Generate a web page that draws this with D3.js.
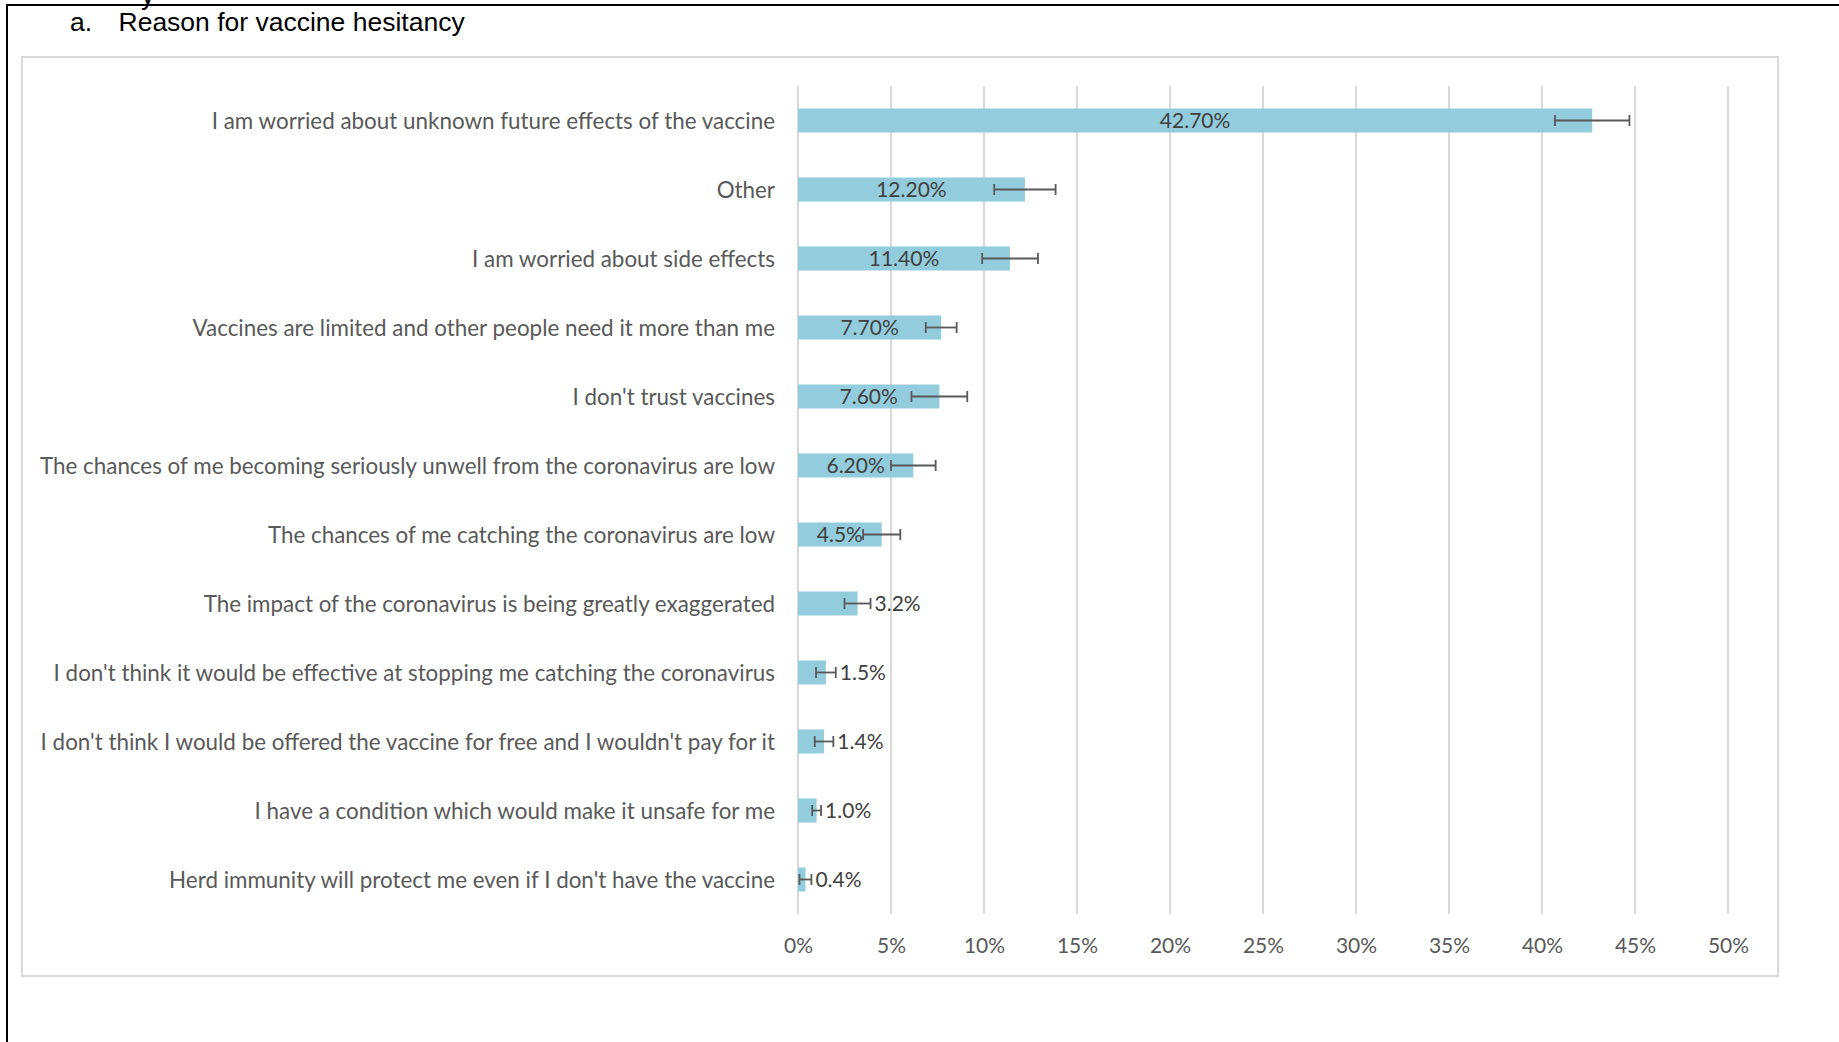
<!DOCTYPE html>
<html>
<head>
<meta charset="utf-8">
<script src="https://cdn.jsdelivr.net/npm/d3@7"></script>
<style>
  body { margin: 0; background: #fff; }
  svg { display: block; }
</style>
</head>
<body>
<div id="chart"></div>
<script>
const categories = [
  'I am worried about unknown future effects of the vaccine',
  'Other',
  'I am worried about side effects',
  'Vaccines are limited and other people need it more than me',
  "I don't trust vaccines",
  'The chances of me becoming seriously unwell from the coronavirus are low',
  'The chances of me catching the coronavirus are low',
  'The impact of the coronavirus is being greatly exaggerated',
  "I don't think it would be effective at stopping me catching the coronavirus",
  "I don't think I would be offered the vaccine for free and I wouldn't pay for it",
  'I have a condition which would make it unsafe for me',
  "Herd immunity will protect me even if I don't have the vaccine"
]
const values = [42.7, 12.2, 11.4, 7.7, 7.6, 6.2, 4.5, 3.2, 1.5, 1.4, 1.0, 0.4]
const errors = [2.0, 1.65, 1.5, 0.83, 1.5, 1.2, 1.0, 0.7, 0.53, 0.5, 0.24, 0.32]
const valueLabels = ['42.70%', '12.20%', '11.40%', '7.70%', '7.60%', '6.20%', '4.5%', '3.2%', '1.5%', '1.4%', '1.0%', '0.4%']
const labelInside = [true, true, true, true, true, true, true, false, false, false, false, false]
const tickValues = [0, 5, 10, 15, 20, 25, 30, 35, 40, 45, 50]

const W = 1839, H = 1042
const data = categories.map((c, i) => ({
  name: c, value: values[i], err: errors[i], label: valueLabels[i], inside: labelInside[i]
}))

const svg = d3.select('#chart').append('svg')
  .attr('width', W)
  .attr('height', H)

svg.append('rect').attr('width', W).attr('height', H).attr('fill', '#fff')

// page frame + the tail of a letter from the line above (cut off in the source too)
svg.append('text')
  .attr('x', 141).attr('y', 4)
  .style('font-family', '"Liberation Sans", Arial, sans-serif')
  .style('font-size', '27px')
  .text('y')
svg.append('line').attr('x1', 6).attr('x2', W).attr('y1', 5).attr('y2', 5)
  .attr('stroke', '#000').attr('stroke-width', 2)
svg.append('line').attr('x1', 7).attr('x2', 7).attr('y1', 4).attr('y2', H)
  .attr('stroke', '#000').attr('stroke-width', 2)

// title
const title = svg.append('g')
  .style('font-family', '"Liberation Sans", Arial, sans-serif')
  .style('font-size', '26.5px')
  .attr('fill', '#000')
title.append('text').attr('x', 70).attr('y', 31).text('a.')
title.append('text').attr('x', 118.5).attr('y', 31).text('Reason for vaccine hesitancy')

// chart area border
svg.append('rect')
  .attr('x', 22).attr('y', 57)
  .attr('width', 1756).attr('height', 919)
  .attr('fill', '#fff')
  .attr('stroke', '#d9d9d9')
  .attr('stroke-width', 2)

const xScale = d3.scaleLinear()
  .domain([0, 50])
  .range([798, 1728])

const yScale = d3.scaleBand()
  .domain(categories)
  .range([86, 914])
  .paddingInner(0.652)
  .paddingOuter(0.326)

// gridlines
svg.append('g')
  .selectAll('line')
  .data(tickValues)
  .enter()
  .append('line')
    .attr('x1', d => xScale(d))
    .attr('x2', d => xScale(d))
    .attr('y1', 86)
    .attr('y2', 914)
    .attr('stroke', '#d9d9d9')
    .attr('stroke-width', 2)

// x axis labels
const xAxis = d3.axisBottom(xScale)
  .tickValues(tickValues)
  .tickFormat(d => d + '%')
  .tickSize(0)
  .tickPadding(0)

const xAxisG = svg.append('g')
  .attr('transform', 'translate(0, 938)')
  .call(xAxis)
xAxisG.select('.domain').remove()
xAxisG.selectAll('text')
  .attr('dy', '0.7em')
  .style('font-family', 'Lato, sans-serif')
  .style('font-size', '21px')
  .attr('fill', '#595959')

// category labels
svg.append('g')
  .selectAll('text')
  .data(data)
  .enter()
  .append('text')
    .attr('x', 775)
    .attr('y', d => yScale(d.name) + yScale.bandwidth() / 2)
    .attr('dy', '0.36em')
    .attr('text-anchor', 'end')
    .style('font-family', 'Lato, sans-serif')
    .style('font-size', '22.4px')
    .attr('fill', '#595959')
    .text(d => d.name)

// bars
svg.append('g')
  .selectAll('rect')
  .data(data)
  .enter()
  .append('rect')
    .attr('x', xScale(0))
    .attr('y', d => yScale(d.name))
    .attr('width', d => xScale(d.value) - xScale(0))
    .attr('height', yScale.bandwidth())
    .attr('fill', '#93cddd')

// error bars
const errG = svg.append('g')
  .attr('stroke', '#595959')
  .attr('stroke-width', 1.8)
  .selectAll('g')
  .data(data)
  .enter()
  .append('g')
    .attr('transform', d => `translate(0, ${yScale(d.name) + yScale.bandwidth() / 2})`)

errG.append('line')
  .attr('x1', d => xScale(d.value - d.err))
  .attr('x2', d => xScale(d.value + d.err))
errG.append('line')
  .attr('x1', d => xScale(d.value - d.err))
  .attr('x2', d => xScale(d.value - d.err))
  .attr('y1', -5.5).attr('y2', 5.5)
errG.append('line')
  .attr('x1', d => xScale(d.value + d.err))
  .attr('x2', d => xScale(d.value + d.err))
  .attr('y1', -5.5).attr('y2', 5.5)

// data labels
svg.append('g')
  .selectAll('text')
  .data(data)
  .enter()
  .append('text')
    .attr('x', d => d.inside ? (xScale(0) + xScale(d.value)) / 2 : xScale(d.value + d.err) + 4)
    .attr('y', d => yScale(d.name) + yScale.bandwidth() / 2)
    .attr('dy', '0.36em')
    .attr('text-anchor', d => d.inside ? 'middle' : 'start')
    .style('font-family', 'Lato, sans-serif')
    .style('font-size', '21px')
    .attr('fill', '#404040')
    .text(d => d.label)
</script>
</body>
</html>
